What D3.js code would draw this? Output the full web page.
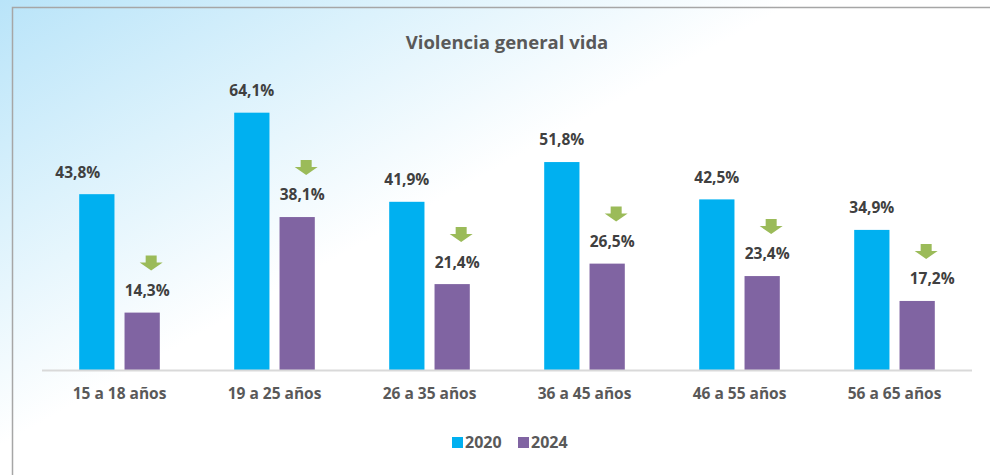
<!DOCTYPE html>
<html>
<head>
<meta charset="utf-8">
<script src="https://cdn.jsdelivr.net/npm/d3@7"></script>
<style>
    body { margin: 0; background: #fff; }
    svg { display: block; }
</style>
</head>
<body>
<svg id="chart" width="990" height="475"></svg>
<script>
// Data
const categories = ['15 a 18 años', '19 a 25 años', '26 a 35 años', '36 a 45 años', '46 a 55 años', '56 a 65 años'];
const seriesNames = ['2020', '2024'];
const values2020 = [43.8, 64.1, 41.9, 51.8, 42.5, 34.9];
const values2024 = [14.3, 38.1, 21.4, 26.5, 23.4, 17.2];
const colors = ['#00b0f0', '#8064a2'];
const chartTitle = 'Violencia general vida';

const fmt = v => d3.format('.1f')(v).replace('.', ',') + '%';

const svg = d3.select('#chart');
const width = 990;
const height = 475;
const font = '"Open Sans", sans-serif';

// Background gradient (light blue top-left fading to white)
const defs = svg.append('defs');
const grad = defs.append('linearGradient')
    .attr('id', 'bg')
    .attr('gradientUnits', 'userSpaceOnUse')
    .attr('x1', 0).attr('y1', 0)
    .attr('x2', 190).attr('y2', 340);
grad.append('stop').attr('offset', 0).attr('stop-color', '#b9e4f9');
grad.append('stop').attr('offset', 0.5).attr('stop-color', '#dcf2fc');
grad.append('stop').attr('offset', 1).attr('stop-color', '#ffffff');

svg.append('rect')
    .attr('width', width).attr('height', height)
    .attr('fill', 'url(#bg)');

// Frame (only left and top edges are visible)
svg.append('path')
    .attr('d', `M12.5,${height} V7.5 H${width}`)
    .attr('fill', 'none')
    .attr('stroke', '#a6a6a6')
    .attr('stroke-width', 1.5);

// Scales
const x0 = d3.scaleBand()
    .domain(categories)
    .range([42, 972])
    .padding(0);

const x1 = d3.scaleBand()
    .domain(seriesNames)
    .range([x0.bandwidth() * 0.24, x0.bandwidth() * 0.76])
    .paddingInner(0.222);

const y = d3.scaleLinear()
    .domain([0, 70])
    .range([370, 89]);

// Title
svg.append('text')
    .attr('x', 507)
    .attr('y', 49)
    .attr('text-anchor', 'middle')
    .attr('font-family', font)
    .attr('font-size', 18.5)
    .attr('font-weight', 'bold')
    .attr('fill', '#595959')
    .text(chartTitle);

// Bars
const rows = categories.map((c, i) => ({ cat: c, vals: [values2020[i], values2024[i]] }));

const group = svg.append('g')
    .selectAll('g')
    .data(rows)
    .enter().append('g')
    .attr('transform', d => `translate(${x0(d.cat)},0)`);

group.selectAll('rect')
    .data(d => d.vals.map((v, j) => ({ key: seriesNames[j], v, j })))
    .enter().append('rect')
    .attr('x', d => x1(d.key))
    .attr('y', d => y(d.v))
    .attr('width', x1.bandwidth())
    .attr('height', d => y(0) - y(d.v))
    .attr('fill', d => colors[d.j]);

// Value labels
group.selectAll('text.val')
    .data((d, i) => d.vals.map((v, j) => ({ key: seriesNames[j], v, j, i })))
    .enter().append('text')
    .attr('class', 'val')
    .attr('x', d => {
        let cx = x1(d.key) + x1.bandwidth() / 2;
        if (d.j === 1) cx += 5;
        if (d.j === 0 && d.i === 0) cx -= 19;
        if (d.j === 1 && d.i === categories.length - 1) cx += 10;
        return cx;
    })
    .attr('y', d => y(d.v) - 22)
    .attr('dy', '0.35em')
    .attr('text-anchor', 'middle')
    .attr('font-family', font)
    .attr('font-size', 15.5)
    .attr('font-weight', 'bold')
    .attr('fill', '#404040')
    .text(d => fmt(d.v));

// Green down arrows above the 2024 labels
group.append('path')
    .attr('transform', d => {
        const cx = x1('2024') + x1.bandwidth() / 2 + 9;
        const bottom = y(d.vals[1]) - 22 - 20;
        return `translate(${cx},${bottom})`;
    })
    .attr('d', 'M-5.5,-15 H5.5 V-8 H11.5 L0,0 L-11.5,-8 H-5.5 Z')
    .attr('fill', '#9bbb59');

// Baseline
svg.append('line')
    .attr('x1', 42).attr('x2', 972)
    .attr('y1', y(0) + 0.5).attr('y2', y(0) + 0.5)
    .attr('stroke', '#d9d9d9')
    .attr('stroke-width', 2);

// Category axis
const xAxis = svg.append('g')
    .attr('transform', `translate(0,${y(0)})`)
    .call(d3.axisBottom(x0).tickSize(0).tickPadding(18));
xAxis.select('.domain').remove();
xAxis.selectAll('text')
    .attr('font-family', font)
    .attr('font-size', 15.5)
    .attr('font-weight', 'bold')
    .attr('fill', '#595959');

// Legend
const legend = svg.append('g')
    .attr('transform', 'translate(452,437)');
const legendItems = legend.selectAll('g')
    .data(seriesNames)
    .enter().append('g')
    .attr('transform', (d, i) => `translate(${i * 66},0)`);
legendItems.append('rect')
    .attr('width', 11).attr('height', 11)
    .attr('fill', (d, i) => colors[i]);
legendItems.append('text')
    .attr('x', 13)
    .attr('y', 5.5)
    .attr('dy', '0.35em')
    .attr('font-family', font)
    .attr('font-size', 16)
    .attr('font-weight', 'bold')
    .attr('fill', '#595959')
    .text(d => d);
</script>
</body>
</html>
